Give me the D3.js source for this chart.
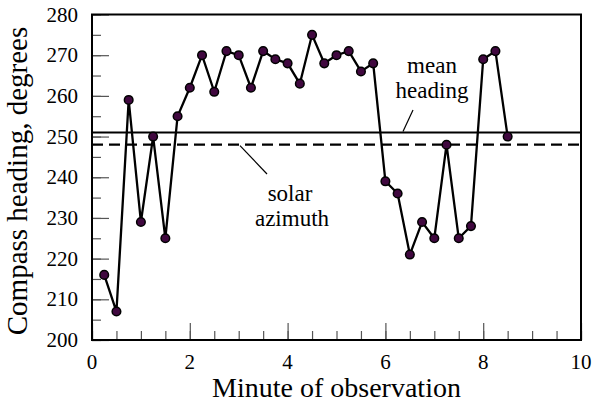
<!DOCTYPE html>
<meta charset="utf-8">
<title>Compass heading</title>
<style>

body {
  margin: 0;
  background: #fff;
}

text {
  font-family: "Liberation Serif", "Times New Roman", serif;
  fill: #000;
}

</style>
<body>
<script src="https://d3js.org/d3.v7.min.js"></script>
<script>

var minutes = [0.25, 0.5, 0.75, 1, 1.25, 1.5, 1.75, 2, 2.25, 2.5, 2.75, 3, 3.25, 3.5, 3.75, 4,
    4.25, 4.5, 4.75, 5, 5.25, 5.5, 5.75, 6, 6.25, 6.5, 6.75, 7, 7.25, 7.5, 7.75, 8, 8.25, 8.5];

var headings = [216, 207, 259, 229, 250, 225, 255, 262, 270, 261, 271, 270, 262, 271, 269, 268,
    263, 275, 268, 270, 271, 266, 268, 239, 236, 221, 229, 225, 248, 225, 228, 269, 271, 250];

var meanHeading = 251,
    solarAzimuth = 248;

var xTicks = [0, 2, 4, 6, 8, 10],
    yTicks = [200, 210, 220, 230, 240, 250, 260, 270, 280];

var w = 593,
    h = 404,
    x0 = 92,
    x1 = 581,
    y0 = 14.5,
    y1 = 340;

var x = d3.scaleLinear().domain([0, 10]).range([x0, x1]),
    y = d3.scaleLinear().domain([200, 280]).range([y1, y0]);

var svg = d3.select("body").append("svg")
    .attr("width", w)
    .attr("height", h);

function greyTicks(g) {
  g.select(".domain").remove();
  g.selectAll("line").attr("stroke", "#555").attr("stroke-width", 1.2);
}

// minor / major ticks, drawn inward
svg.append("g")
    .attr("transform", "translate(0," + y1 + ")")
    .call(d3.axisTop(x).tickValues(d3.range(0, 10.01, 0.5)).tickSize(9).tickFormat(""))
    .call(greyTicks);

svg.append("g")
    .attr("transform", "translate(0," + y1 + ")")
    .call(d3.axisTop(x).tickValues(xTicks).tickSize(17).tickFormat(""))
    .call(greyTicks);

svg.append("g")
    .attr("transform", "translate(" + x0 + ",0)")
    .call(d3.axisRight(y).tickValues(d3.range(200, 280.1, 5)).tickSize(9).tickFormat(""))
    .call(greyTicks);

svg.append("g")
    .attr("transform", "translate(" + x0 + ",0)")
    .call(d3.axisRight(y).tickValues(yTicks).tickSize(17).tickFormat(""))
    .call(greyTicks);

// tick labels
svg.selectAll(".xlabel")
    .data(xTicks)
  .enter().append("text")
    .attr("x", function(d) { return x(d); })
    .attr("y", 369)
    .attr("text-anchor", "middle")
    .style("font-size", "21px")
    .text(function(d) { return d; });

svg.selectAll(".ylabel")
    .data(yTicks)
  .enter().append("text")
    .attr("x", 78)
    .attr("y", function(d) { return y(d) + 7; })
    .attr("text-anchor", "end")
    .style("font-size", "21px")
    .text(function(d) { return d; });

svg.append("text")
    .attr("x", (x0 + x1) / 2)
    .attr("y", 397)
    .attr("text-anchor", "middle")
    .style("font-size", "28px")
    .text("Minute of observation");

svg.append("text")
    .attr("transform", "translate(27," + 181 + ") rotate(-90)")
    .attr("text-anchor", "middle")
    .style("font-size", "29px")
    .text("Compass heading, degrees");

// reference lines
svg.append("line")
    .attr("x1", x0).attr("x2", x1)
    .attr("y1", y(meanHeading)).attr("y2", y(meanHeading))
    .attr("stroke", "#000")
    .attr("stroke-width", 2);

svg.append("line")
    .attr("x1", x0).attr("x2", x1)
    .attr("y1", y(solarAzimuth)).attr("y2", y(solarAzimuth))
    .attr("stroke", "#000")
    .attr("stroke-width", 2.2)
    .attr("stroke-dasharray", "11,6");

// annotations
svg.append("line")
    .attr("x1", 413).attr("y1", 110).attr("x2", 403).attr("y2", y(meanHeading) - 1)
    .attr("stroke", "#000").attr("stroke-width", 1.2);

svg.append("text").attr("x", 432).attr("y", 73).attr("text-anchor", "middle").style("font-size", "23px").text("mean");
svg.append("text").attr("x", 432).attr("y", 98).attr("text-anchor", "middle").style("font-size", "23px").text("heading");

svg.append("line")
    .attr("x1", 240).attr("y1", y(solarAzimuth) + 1).attr("x2", 267).attr("y2", 174)
    .attr("stroke", "#000").attr("stroke-width", 1.2);

svg.append("text").attr("x", 290).attr("y", 201).attr("text-anchor", "middle").style("font-size", "23px").text("solar");
svg.append("text").attr("x", 292).attr("y", 226).attr("text-anchor", "middle").style("font-size", "23px").text("azimuth");

// data
var pts = d3.zip(minutes, headings);

svg.append("path")
    .datum(pts)
    .attr("fill", "none")
    .attr("stroke", "#000")
    .attr("stroke-width", 2.3)
    .attr("d", d3.line().x(function(d) { return x(d[0]); }).y(function(d) { return y(d[1]); }));

svg.selectAll("circle")
    .data(pts)
  .enter().append("circle")
    .attr("cx", function(d) { return x(d[0]); })
    .attr("cy", function(d) { return y(d[1]); })
    .attr("r", 4.3)
    .attr("fill", "#40083f")
    .attr("stroke", "#000")
    .attr("stroke-width", 1.5);

// frame
svg.append("rect")
    .attr("x", x0).attr("y", y0)
    .attr("width", x1 - x0).attr("height", y1 - y0)
    .attr("fill", "none")
    .attr("stroke", "#000")
    .attr("stroke-width", 2);

</script>
